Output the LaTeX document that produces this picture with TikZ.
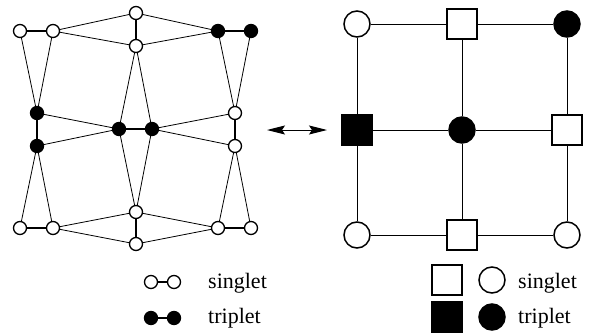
\documentclass[tikz,border=0pt]{standalone}
\usepackage{fontspec}
\setmainfont{Liberation Serif}
\usetikzlibrary{arrows.meta}
\begin{document}
\begin{tikzpicture}[x=1pt,y=-1pt,
  site/.style={circle,draw,line width=1.3pt,minimum size=13pt,inner sep=0pt,fill=white},
  osite/.style={site},
  fsite/.style={site,fill=black},
  link/.style={line width=0.8pt},
  bond/.style={line width=2pt},
  grid/.style={line width=1pt},
  bigc/.style={circle,draw,line width=1.5pt,minimum size=26pt,inner sep=0pt,fill=white},
  bigs/.style={rectangle,draw,line width=1.5pt,minimum size=30pt,inner sep=0pt,fill=white},
  full/.style={fill=black},
  legtext/.style={anchor=base west,inner sep=0pt,font=\fontsize{22}{26}\selectfont}]
\useasboundingbox (0,0) rectangle (590,335);

% distorted lattice with dimer bonds
\node[osite] (tl1) at (20,31) {};
\node[osite] (tl2) at (53,31) {};
\node[osite] (tc1) at (136,13) {};
\node[osite] (tc2) at (136,46) {};
\node[fsite] (tr1) at (218,31) {};
\node[fsite] (tr2) at (251,31) {};
\node[fsite] (ml1) at (37,113) {};
\node[fsite] (ml2) at (37,146) {};
\node[fsite] (c1) at (119,129) {};
\node[fsite] (c2) at (152,129) {};
\node[osite] (mr1) at (235,113) {};
\node[osite] (mr2) at (235,146) {};
\node[osite] (bl1) at (20,228) {};
\node[osite] (bl2) at (53,228) {};
\node[osite] (bc1) at (136,212) {};
\node[osite] (bc2) at (136,244) {};
\node[osite] (br1) at (218,228) {};
\node[osite] (br2) at (251,228) {};

\draw[link] (tl2) -- (tc1) (tl2) -- (tc2) (tc1) -- (tr1) (tc2) -- (tr1);
\draw[link] (tl1) -- (ml1) (tl2) -- (ml1) (tr1) -- (mr1) (tr2) -- (mr1);
\draw[link] (ml1) -- (c1) (ml2) -- (c1) (c2) -- (mr1) (c2) -- (mr2);
\draw[link] (c1) -- (tc2) (c2) -- (tc2) (c1) -- (bc1) (c2) -- (bc1);
\draw[link] (ml2) -- (bl1) (ml2) -- (bl2) (mr2) -- (br1) (mr2) -- (br2);
\draw[link] (bl2) -- (bc1) (bl2) -- (bc2) (bc1) -- (br1) (bc2) -- (br1);
\draw[bond] (tl1) -- (tl2) (tc1) -- (tc2) (tr1) -- (tr2);
\draw[bond] (ml1) -- (ml2) (c1) -- (c2) (mr1) -- (mr2);
\draw[bond] (bl1) -- (bl2) (bc1) -- (bc2) (br1) -- (br2);

% correspondence arrow
\coordinate (arrL) at (267,130);
\coordinate (arrR) at (327,130);
\draw[line width=1pt,{Stealth[length=18pt,width=9pt,inset=3pt]}-{Stealth[length=18pt,width=9pt,inset=3pt]}] (arrL) -- (arrR);

% effective square lattice
\node[bigc] (g11) at (357,24) {};
\node[bigs] (g12) at (462,24) {};
\node[bigc,full] (g13) at (567,24) {};
\node[bigs,full] (g21) at (357,130) {};
\node[bigc,full] (g22) at (462,130) {};
\node[bigs] (g23) at (567,130) {};
\node[bigc] (g31) at (357,235) {};
\node[bigs] (g32) at (462,235) {};
\node[bigc] (g33) at (567,235) {};
\draw[grid] (g11) -- (g12) (g12) -- (g13) (g21) -- (g22) (g22) -- (g23) (g31) -- (g32) (g32) -- (g33);
\draw[grid] (g11) -- (g21) (g21) -- (g31) (g12) -- (g22) (g22) -- (g32) (g13) -- (g23) (g23) -- (g33);

% legend for bonds
\node[osite] (ls1) at (151,282) {};
\node[osite] (ls2) at (174,282) {};
\draw[bond] (ls1) -- (ls2);
\node[legtext] (lst) at (208,288) {singlet};
\node[fsite] (lt1) at (151,318) {};
\node[fsite] (lt2) at (174,318) {};
\draw[bond] (lt1) -- (lt2);
\node[legtext] (ltt) at (208,323) {triplet};

% legend for effective sites
\node[bigs] (rs1) at (447,280) {};
\node[bigc] (rs2) at (492,280) {};
\node[legtext] (rst) at (518,288) {singlet};
\node[bigs,full] (rt1) at (447,317) {};
\node[bigc,full] (rt2) at (492,317) {};
\node[legtext] (rtt) at (518,323) {triplet};
\end{tikzpicture}
\end{document}
